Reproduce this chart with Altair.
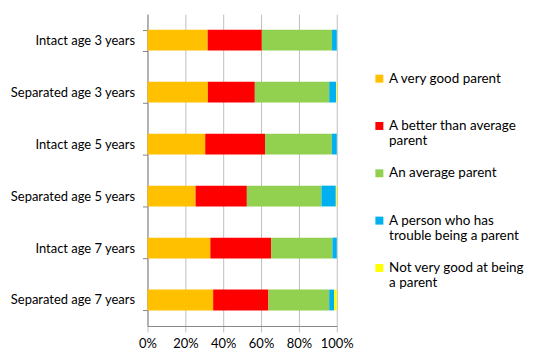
import altair as alt
import pandas as pd

categories = [
    "Intact age 3 years",
    "Separated age 3 years",
    "Intact age 5 years",
    "Separated age 5 years",
    "Intact age 7 years",
    "Separated age 7 years",
]
series = [
    "A very good parent",
    "A better than average parent",
    "An average parent",
    "A person who has trouble being a parent",
    "Not very good at being a parent",
]
very_good = [31.8, 31.9, 30.5, 25.4, 33.2, 34.7]
better_than_avg = [28.6, 24.8, 31.6, 27.1, 32.1, 29.2]
average = [37.1, 39.3, 35.3, 39.4, 32.4, 32.1]
trouble = [2.5, 3.6, 2.6, 7.6, 2.3, 2.6]
not_very_good = [0.0, 0.4, 0.0, 0.5, 0.0, 1.4]
colors = ["#FFC000", "#FF0000", "#92D050", "#00B0F0", "#FFFF00"]

rows = []
for si, (name, vals) in enumerate(zip(series, [very_good, better_than_avg, average, trouble, not_very_good])):
    for c, v in zip(categories, vals):
        rows.append({"group": c, "series": name, "order": si, "value": v})
df = pd.DataFrame(rows)

font = "Lato"
label_expr = (
    "datum.label == 'A better than average parent' ? ['A better than average', 'parent'] : "
    "datum.label == 'A person who has trouble being a parent' ? ['A person who has', 'trouble being a parent'] : "
    "datum.label == 'Not very good at being a parent' ? ['Not very good at being', 'a parent'] : [datum.label, ' ']"
)

chart = alt.Chart(df).mark_bar().encode(
    y=alt.Y("group:N", sort=categories, title=None,
            scale=alt.Scale(paddingInner=0.6, paddingOuter=0.3),
            axis=alt.Axis(tickBand="extent", domainColor="#868686", tickColor="#868686",
                          tickSize=5, labelPadding=8, labelFontSize=13, labelFont=font,
                          labelColor="#000000", grid=False)),
    x=alt.X("value:Q", stack="normalize", title=None,
            scale=alt.Scale(domain=[0, 1]),
            axis=alt.Axis(format="%", values=[0, 0.2, 0.4, 0.6, 0.8, 1.0],
                          grid=True, gridColor="#BFBFBF", domainColor="#868686",
                          tickColor="#BFBFBF", tickSize=6, labelFontSize=13,
                          labelFont=font, labelColor="#000000", labelPadding=6,
                          labelFlush=False)),
    color=alt.Color("series:N", sort=series,
                    scale=alt.Scale(domain=series, range=colors),
                    legend=alt.Legend(title=None, orient="none", legendX=226, legendY=58,
                                      symbolType="square", symbolSize=64, symbolStrokeWidth=0,
                                      labelFontSize=13.5, labelFont=font, labelColor="#000000",
                                      labelOffset=3, rowPadding=17.5, labelExpr=label_expr,
                                      labelLimit=300, padding=0)),
    order=alt.Order("order:Q"),
).properties(
    width=190, height=313,
    padding={"left": 140, "top": 5.5, "right": 210, "bottom": 40},
    autosize=alt.AutoSizeParams(type="none"),
).configure_view(stroke=None).configure_axis(domainWidth=1)

chart.save("out.html", embed_options={"renderer": "svg", "actions": False})
